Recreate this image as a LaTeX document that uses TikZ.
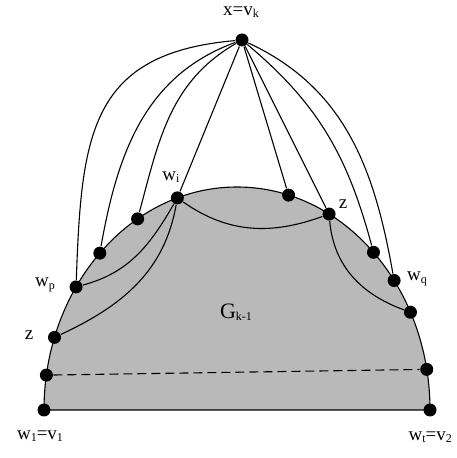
\documentclass[tikz,border=0pt]{standalone}
\usepackage{fontspec}
\setmainfont{Liberation Serif}
\newcommand{\lowidx}[1]{\raisebox{-0.25ex}{\fontsize{12}{12}\selectfont #1}}
\begin{document}
\begin{tikzpicture}[x=1pt,y=1pt,line width=1.1pt,
  vtx/.style={circle,fill=black,inner sep=0pt,minimum size=13pt},
  lbl/.style={font=\fontsize{19}{19}\selectfont,inner sep=1pt}]
\useasboundingbox (0,0) rectangle (456,458);
% the graph G_{k-1}
\draw[fill=gray!55] (44,48) arc[start angle=180,end angle=0,x radius=193,y radius=223] -- cycle;
% vertices on its outer face
\begin{scope}[shift={(237,48)}]
\foreach \n/\t in {w1/180,dl/171,zl/161,wp/146.5,d2/135.3,d1/121,wi/108,d3/74.5,zr/61.5,d4/45,wq/35.5,d5/26,dr/10.5,wt/0}
  \node[vtx] (\n) at (\t:193 and 223) {};
\end{scope}
\node[vtx] (x) at (242,418) {};
% edges of v_k
\draw (x) to[out=185,in=88,looseness=1.3] (wp);
\draw (x) to[out=200,in=80] (d2);
\draw (x) to[out=210,in=75] (d1);
\draw (x) -- (wi);
\draw (x) -- (d3);
\draw (x) -- (zr);
\draw (x) to[out=-40,in=105] (d4);
\draw (x) to[out=-25,in=100] (wq);
% chords
\draw (wi) to[out=240,in=15] (wp);
\draw (wi) to[out=-100,in=25] (zl);
\draw (wi) to[out=-35,in=200] (zr);
\draw (zr) to[out=-85,in=160] (d5);
\draw[dash pattern=on 9pt off 5pt] (dl) -- (dr);
% labels
\node[lbl] (lx) at (241,446) {x=v\lowidx{k}};
\node[lbl] (lwi) at (171,281) {w\lowidx{i}};
\node[lbl] (lwp) at (45,173) {w\lowidx{p}};
\node[lbl] (lzl) at (29,123) {z};
\node[lbl] (lzr) at (343,254) {z};
\node[lbl] (lwq) at (417,179) {w\lowidx{q}};
\node[lbl,font=\fontsize{22}{22}\selectfont] (lg) at (236,146) {G\lowidx{k-1}};
\node[lbl] (lw1) at (40,22) {w\lowidx{1}=v\lowidx{1}};
\node[lbl,anchor=west] (lwt) at (407,21) {w\lowidx{t}=v\lowidx{2}};
\end{tikzpicture}
\end{document}
